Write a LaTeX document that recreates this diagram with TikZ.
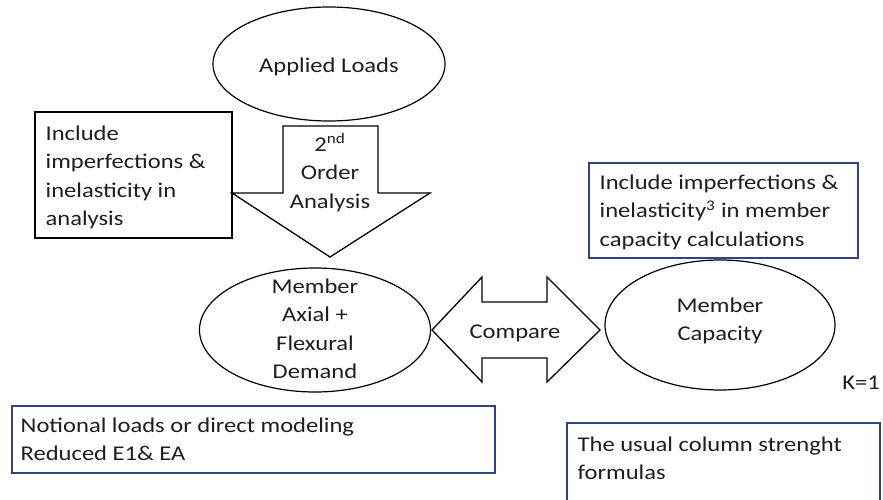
\documentclass[tikz,border=0pt]{standalone}
\usepackage{fontspec}
\setmainfont{Carlito}[FakeStretch=1.17]
\usetikzlibrary{shapes.geometric}
\definecolor{boxblue}{RGB}{50,68,128}
\definecolor{ink}{RGB}{30,30,30}
\begin{document}
\begin{tikzpicture}[x=1pt, y=-1pt, line width=1.3pt,
    txt/.style={font=\fontsize{21}{28.5}\selectfont, text=ink, inner sep=0pt},
    oval/.style={ellipse, draw, line width=1.2pt, inner sep=0pt}]
        \useasboundingbox (0,0) rectangle (883,500);
        % ovals
        \node[oval, minimum width=232pt, minimum height=114pt] (loads) at (329,64) {};
        \node[oval, minimum width=231pt, minimum height=124pt] (demand) at (315,330) {};
        \node[oval, minimum width=230pt, minimum height=130pt] (capacity) at (720,325) {};
        % arrows
        \draw (283,126)--(378,126)--(378,193)--(430,193)--(330,257)--(232,193)--(283,193)--cycle;
        \draw (432,330)--(482,277)--(482,302)--(547,302)--(547,277)--(600,330)
              --(547,382)--(547,358)--(482,358)--(482,382)--cycle;
        % boxes
        \draw (35,112) rectangle (232,238);
        \draw[boxblue] (589,163) rectangle (858,258);
        \draw[boxblue] (12,406) rectangle (495,473);
        \draw[boxblue] (567,502)--(567,423)--(880,423)--(880,502);
        % texts
        \node[txt] (loadstxt) at (329,67) {Applied Loads};
        \node[txt, anchor=north west, align=left] (analysisnote) at (45,125)
            {Include\\imperfections \&\\inelasticity in\\analysis};
        \node[txt, anchor=north, align=center] (order) at (330,133)
            {2\textsuperscript{nd}\\Order\\Analysis};
        \node[txt, anchor=north, align=center] (demandtxt) at (315,278)
            {Member\\Axial +\\Flexural\\Demand};
        \node[txt] (compare) at (515,333) {Compare};
        \node[txt, anchor=north, align=center] (capacitytxt) at (720,297)
            {Member\\Capacity};
        \node[txt, anchor=north west, align=left] (capacitynote) at (599,174)
            {Include imperfections \&\\inelasticity\textsuperscript{3} in member\\capacity calculations};
        \node[txt] (kfactor) at (861,383) {K=1};
        \node[txt, anchor=north west, align=left] (demandnote) at (20,417)
            {Notional loads or direct modeling\\Reduced E1\& EA};
        \node[txt, anchor=north west, align=left] (formulas) at (577,436)
            {The usual column strenght\\formulas};
\end{tikzpicture}
\end{document}
